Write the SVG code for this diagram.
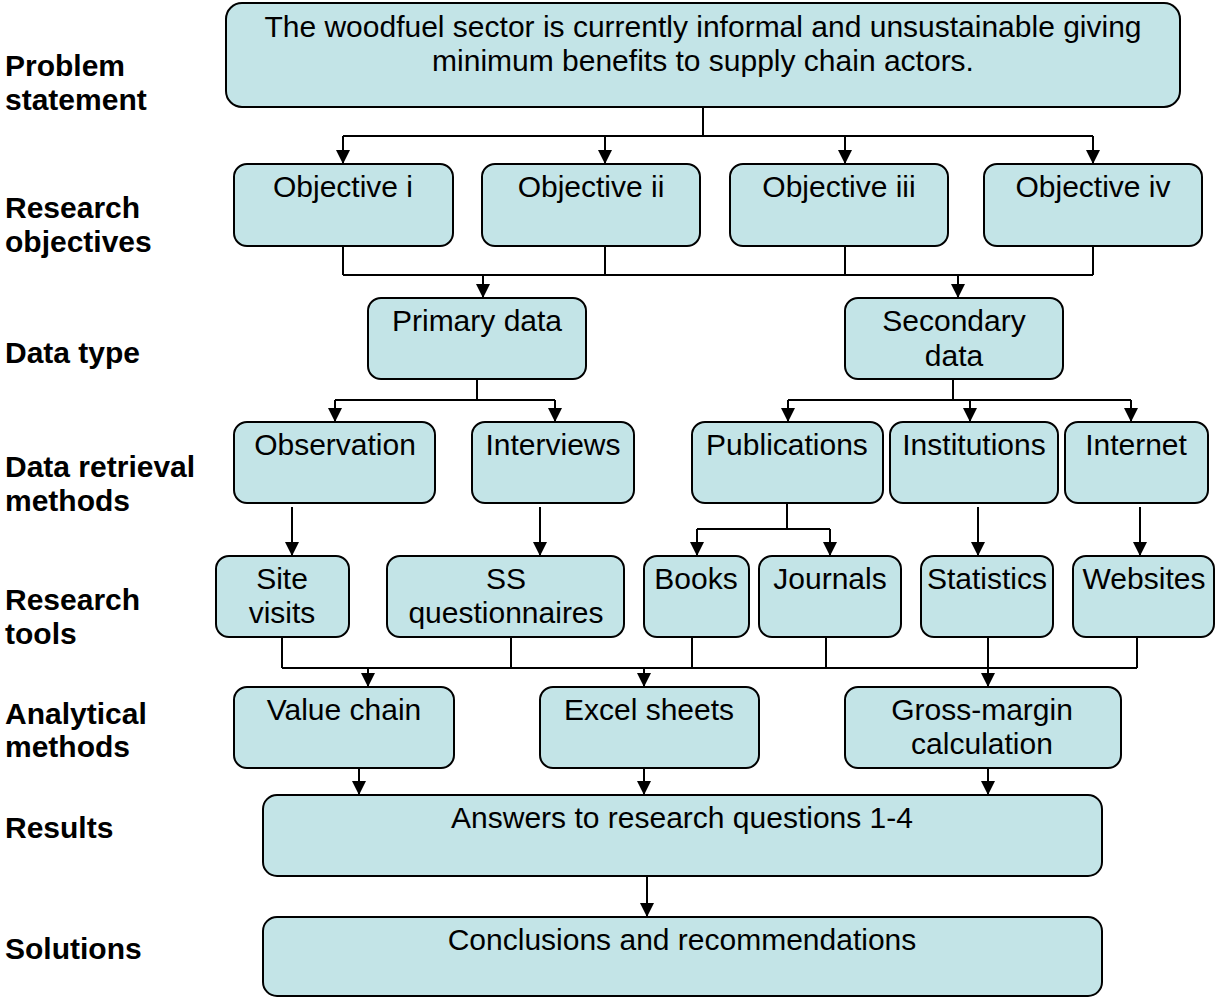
<svg xmlns="http://www.w3.org/2000/svg" width="1217" height="998" viewBox="0 0 1217 998">
<style>
.box{fill:#c3e4e7;stroke:#000;stroke-width:2}
.t{font-family:"Liberation Sans",Arial,sans-serif;font-size:30px;fill:#000;text-anchor:middle}
.lbl{font-family:"Liberation Sans",Arial,sans-serif;font-size:30px;font-weight:bold;fill:#000}
.c{fill:none;stroke:#000;stroke-width:2}
.a{fill:none;stroke:#000;stroke-width:2;marker-end:url(#ah)}
</style>
<defs>
<marker id="ah" markerUnits="userSpaceOnUse" markerWidth="14" markerHeight="14" refX="14" refY="7" orient="auto" viewBox="0 0 14 14">
<path d="M0,0 L14,7 L0,14 z" fill="#000"/>
</marker>
</defs>
<rect width="1217" height="998" fill="#fff"/>
<g id="labels">
<text class="lbl" x="5" y="76">Problem</text>
<text class="lbl" x="5" y="110">statement</text>
<text class="lbl" x="5" y="218">Research</text>
<text class="lbl" x="5" y="252">objectives</text>
<text class="lbl" x="5" y="363">Data type</text>
<text class="lbl" x="5" y="477">Data retrieval</text>
<text class="lbl" x="5" y="511">methods</text>
<text class="lbl" x="5" y="610">Research</text>
<text class="lbl" x="5" y="644">tools</text>
<text class="lbl" x="5" y="724">Analytical</text>
<text class="lbl" x="5" y="757">methods</text>
<text class="lbl" x="5" y="838">Results</text>
<text class="lbl" x="5" y="959">Solutions</text>
</g>
<g id="connectors">
<path class="c" d="M703,107 V136 M343,136 H1093"/>
<path class="a" d="M343,136 V164"/>
<path class="a" d="M605,136 V164"/>
<path class="a" d="M845,136 V164"/>
<path class="a" d="M1093,136 V164"/>
<path class="c" d="M343,246 V275 M605,246 V275 M845,246 V275 M1093,246 V275 M343,275 H1093"/>
<path class="a" d="M483,275 V298"/>
<path class="a" d="M958,275 V298"/>
<path class="c" d="M477,379 V400 M335,400 H555"/>
<path class="a" d="M335,400 V422"/>
<path class="a" d="M555,400 V422"/>
<path class="c" d="M953,379 V400 M788,400 H1131"/>
<path class="a" d="M788,400 V422"/>
<path class="a" d="M970,400 V422"/>
<path class="a" d="M1131,400 V422"/>
<path class="a" d="M292,507 V556"/>
<path class="a" d="M540,507 V556"/>
<path class="c" d="M787,503 V529 M697,529 H830"/>
<path class="a" d="M697,529 V556"/>
<path class="a" d="M830,529 V556"/>
<path class="a" d="M978,507 V556"/>
<path class="a" d="M1140,507 V556"/>
<path class="c" d="M282,637 V668 M511,637 V668 M692,637 V668 M826,637 V668 M988,637 V668 M1137,637 V668 M282,668 H1137"/>
<path class="a" d="M368,668 V687"/>
<path class="a" d="M644,668 V687"/>
<path class="a" d="M988,668 V687"/>
<path class="a" d="M359,768 V795"/>
<path class="a" d="M644,768 V795"/>
<path class="a" d="M988,768 V795"/>
<path class="a" d="M647,876 V917"/>
</g>
<g id="problem">
<rect class="box" x="226" y="3" width="954" height="104" rx="16"/>
<text class="t" x="703" y="37">The woodfuel sector is currently informal and unsustainable giving</text>
<text class="t" x="703" y="71">minimum benefits to supply chain actors.</text>
</g>
<g id="obj1"><rect class="box" x="234" y="164" width="219" height="82" rx="13"/><text class="t" x="343" y="197">Objective i</text></g>
<g id="obj2"><rect class="box" x="482" y="164" width="218" height="82" rx="13"/><text class="t" x="591" y="197">Objective ii</text></g>
<g id="obj3"><rect class="box" x="730" y="164" width="218" height="82" rx="13"/><text class="t" x="839" y="197">Objective iii</text></g>
<g id="obj4"><rect class="box" x="984" y="164" width="218" height="82" rx="13"/><text class="t" x="1093" y="197">Objective iv</text></g>
<g id="primary"><rect class="box" x="368" y="298" width="218" height="81" rx="13"/><text class="t" x="477" y="331">Primary data</text></g>
<g id="secondary"><rect class="box" x="845" y="298" width="218" height="81" rx="13"/><text class="t" x="954" y="331">Secondary</text><text class="t" x="954" y="366">data</text></g>
<g id="observation"><rect class="box" x="234" y="422" width="201" height="81" rx="13"/><text class="t" x="335" y="455">Observation</text></g>
<g id="interviews"><rect class="box" x="472" y="422" width="162" height="81" rx="13"/><text class="t" x="553" y="455">Interviews</text></g>
<g id="publications"><rect class="box" x="692" y="422" width="191" height="81" rx="13"/><text class="t" x="787" y="455">Publications</text></g>
<g id="institutions"><rect class="box" x="890" y="422" width="168" height="81" rx="13"/><text class="t" x="974" y="455">Institutions</text></g>
<g id="internet"><rect class="box" x="1065" y="422" width="143" height="81" rx="13"/><text class="t" x="1136" y="455">Internet</text></g>
<g id="site"><rect class="box" x="216" y="556" width="133" height="81" rx="13"/><text class="t" x="282" y="589">Site</text><text class="t" x="282" y="623">visits</text></g>
<g id="ss"><rect class="box" x="387" y="556" width="237" height="81" rx="13"/><text class="t" x="506" y="589">SS</text><text class="t" x="506" y="623">questionnaires</text></g>
<g id="books"><rect class="box" x="644" y="556" width="105" height="81" rx="13"/><text class="t" x="696" y="589">Books</text></g>
<g id="journals"><rect class="box" x="759" y="556" width="142" height="81" rx="13"/><text class="t" x="830" y="589">Journals</text></g>
<g id="statistics"><rect class="box" x="921" y="556" width="132" height="81" rx="13"/><text class="t" x="987" y="589">Statistics</text></g>
<g id="websites"><rect class="box" x="1073" y="556" width="141" height="81" rx="13"/><text class="t" x="1144" y="589">Websites</text></g>
<g id="valuechain"><rect class="box" x="234" y="687" width="220" height="81" rx="13"/><text class="t" x="344" y="720">Value chain</text></g>
<g id="excel"><rect class="box" x="540" y="687" width="219" height="81" rx="13"/><text class="t" x="649" y="720">Excel sheets</text></g>
<g id="grossmargin"><rect class="box" x="845" y="687" width="276" height="81" rx="13"/><text class="t" x="982" y="720">Gross-margin</text><text class="t" x="982" y="754">calculation</text></g>
<g id="results"><rect class="box" x="263" y="795" width="839" height="81" rx="14"/><text class="t" x="682" y="828">Answers to research questions 1-4</text></g>
<g id="solutions"><rect class="box" x="263" y="917" width="839" height="79" rx="14"/><text class="t" x="682" y="950">Conclusions and recommendations</text></g>
</svg>
